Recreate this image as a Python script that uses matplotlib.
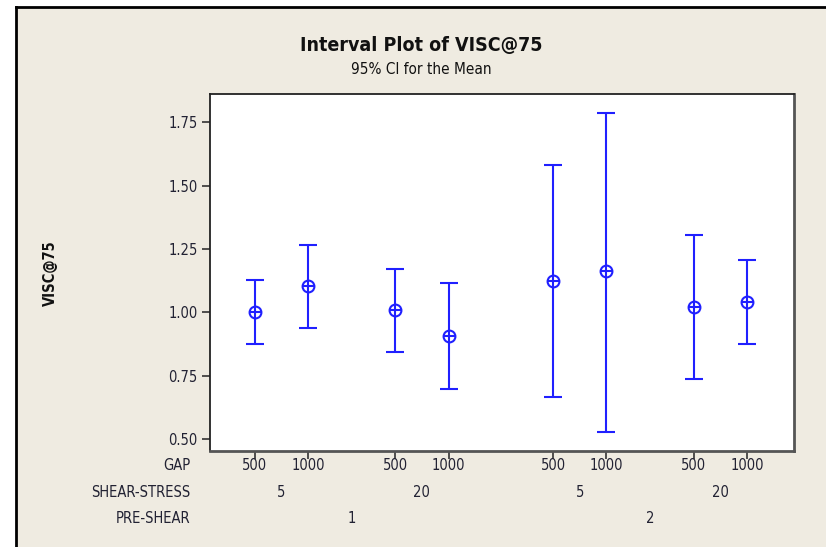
import numpy as np
import matplotlib
matplotlib.use("Agg")
from matplotlib import pyplot as plt
from matplotlib.patches import Rectangle

# group levels (innermost first)
gap_levels = ["500", "1000"]
shear_levels = ["5", "20"]
preshear_levels = ["1", "2"]

# mean and 95% CI bounds per cell
means = [1.000, 1.105, 1.011, 0.908, 1.122, 1.162, 1.021, 1.043]
ci_low = [0.875, 0.937, 0.842, 0.696, 0.668, 0.528, 0.736, 0.875]
ci_high = [1.128, 1.267, 1.172, 1.117, 1.580, 1.788, 1.307, 1.205]

yticks = [0.50, 0.75, 1.00, 1.25, 1.50, 1.75]

BLUE = "#2020ff"
BG = "#efebe1"
FONT = dict(family="DejaVu Sans", stretch="condensed")

# x positions: unit step inside a GAP pair, wider gaps between groups
SHEAR_GAP = 1.64
PRE_GAP = 1.96
xs = []
x = 0.0
for p in range(len(preshear_levels)):
    for s in range(len(shear_levels)):
        for g in range(len(gap_levels)):
            xs.append(x)
            x += 1.0
        x += SHEAR_GAP - 1.0
    x += PRE_GAP - SHEAR_GAP
xs = np.array(xs)
means = np.array(means)
ci_low = np.array(ci_low)
ci_high = np.array(ci_high)

fig = plt.figure(figsize=(8.26, 5.47), dpi=100, facecolor="white")
W, H = 826, 547
# beige panel with black frame on left and top
fig.add_artist(Rectangle((16 / W, 0), 1, 1 - 7 / H, transform=fig.transFigure,
                         facecolor=BG, edgecolor="none", zorder=-5))
fig.add_artist(plt.Line2D([15.5 / W, 15.5 / W], [0, 1 - 6.5 / H], color="black", lw=2,
                          transform=fig.transFigure, zorder=-4))
fig.add_artist(plt.Line2D([15.5 / W, 1], [1 - 6.5 / H, 1 - 6.5 / H], color="black", lw=2,
                          transform=fig.transFigure, zorder=-4))

ax = fig.add_axes([210 / W, 1 - 451 / H, 584 / W, 357 / H])
ax.set_facecolor("white")

ax.errorbar(xs, means, yerr=[means - ci_low, ci_high - means], fmt="none",
            ecolor=BLUE, elinewidth=1.5, capsize=6.5, capthick=1.5)
ax.plot(xs, means, linestyle="none", marker="o", markersize=8.5, markerfacecolor="white",
        markeredgecolor=BLUE, markeredgewidth=1.5)
ax.plot(xs, means, linestyle="none", marker="+", markersize=8.5, color=BLUE,
        markeredgewidth=1.5)

ax.set_xlim(xs[0] - 0.835, xs[0] + 10.12)
ax.set_ylim(0.453, 1.862)
ax.set_yticks(yticks)
ax.set_yticklabels(["%.2f" % t for t in yticks], fontsize=10.5, color="#222233", **FONT)
ax.set_xticks(xs)
ax.set_xticklabels(gap_levels * (len(shear_levels) * len(preshear_levels)),
                   fontsize=10.5, color="#222233", **FONT)
ax.tick_params(axis="both", direction="out", length=6, width=1.2, color="#333333")
ax.tick_params(axis="x", pad=-1)
ax.tick_params(axis="y", pad=3)
for side in ["left", "top"]:
    ax.spines[side].set_color("#222222")
    ax.spines[side].set_linewidth(1.3)
for side in ["right", "bottom"]:
    ax.spines[side].set_color("#555555")
    ax.spines[side].set_linewidth(2.0)

# group label rows under the axis
trans = ax.get_xaxis_transform()
row_y = {"GAP": -0.042, "SHEAR-STRESS": -0.115, "PRE-SHEAR": -0.19}
for name, yy in row_y.items():
    ax.text(-20 / 584, yy, name, transform=ax.transAxes, ha="right", va="center",
            fontsize=10.5, color="#222233", **FONT)
k = 0
for p in range(len(preshear_levels)):
    for s in range(len(shear_levels)):
        cx = xs[k:k + len(gap_levels)].mean()
        ax.text(cx, row_y["SHEAR-STRESS"], shear_levels[s], transform=trans,
                ha="center", va="center", fontsize=10.5, color="#222233", **FONT)
        k += len(gap_levels)
    n = len(gap_levels) * len(shear_levels)
    cx = xs[p * n:(p + 1) * n].mean()
    ax.text(cx, row_y["PRE-SHEAR"], preshear_levels[p], transform=trans,
            ha="center", va="center", fontsize=10.5, color="#222233", **FONT)

fig.text(421 / W, 1 - 45 / H, "Interval Plot of VISC@75", ha="center", va="center",
         fontsize=14, fontweight="bold", color="#111111", **FONT)
fig.text(421 / W, 1 - 69 / H, "95% CI for the Mean", ha="center", va="center",
         fontsize=11, color="#111111", **FONT)
fig.text(50 / W, 1 - 273 / H, "VISC@75", rotation=90, ha="center", va="center",
         fontsize=10.5, fontweight="bold", color="#111111", **FONT)

fig.savefig("out.png", dpi=100, facecolor=fig.get_facecolor())
